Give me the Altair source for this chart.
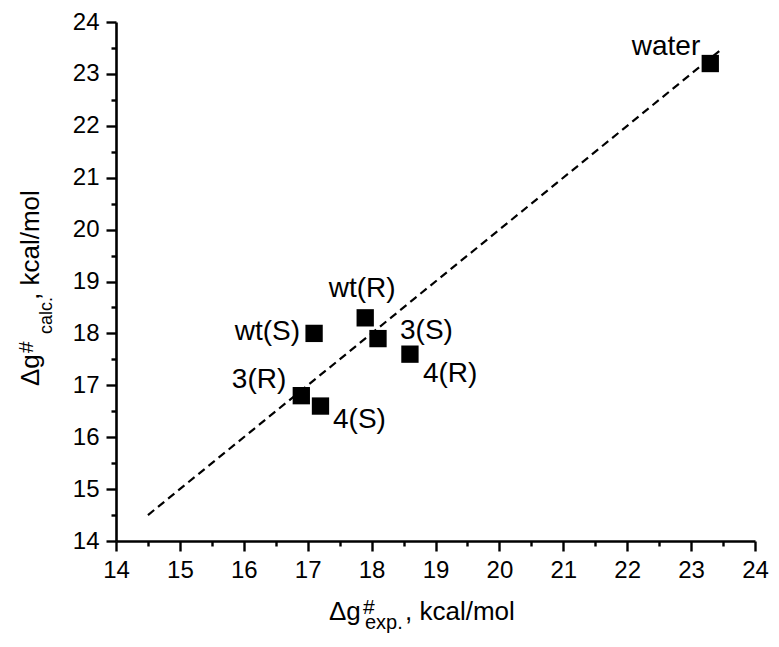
import altair as alt
import pandas as pd

# ---- data ----
NAMES = ["water", "wt(S)", "wt(R)", "3(S)", "4(R)", "3(R)", "4(S)"]
EXP = [23.3, 17.1, 17.9, 18.1, 18.6, 16.9, 17.2]
CALC = [23.2, 18.0, 18.3, 17.9, 17.6, 16.8, 16.6]
LINE_X = [14.5, 23.45]
LINE_Y = [14.5, 23.45]
MAJOR_TICKS = [14, 15, 16, 17, 18, 19, 20, 21, 22, 23, 24]
MINOR_TICKS = [14.5, 15.5, 16.5, 17.5, 18.5, 19.5, 20.5, 21.5, 22.5, 23.5]
X_TITLE_PARTS = ["Δg", "#", "exp.", ", kcal/mol"]
Y_TITLE_PARTS = ["Δg", "#", "calc.", ", kcal/mol"]

# ---- styling ----
FONT = "Liberation Sans"
LABEL_SIZE = 28
# align, dx, dy for each point label
LABEL_STYLE = {
    "water": ("right", -10, -8.5),
    "wt(S)": ("right", -14, 7),
    "3(R)": ("right", -15, -8),
    "wt(R)": ("center", -3, -21),
    "3(S)": ("left", 22, 0),
    "4(R)": ("left", 13, 28),
    "4(S)": ("left", 12.5, 22),
}
# pixel placement (x, y, fontSize) of title pieces relative to plot origin
X_TITLE_POS = [(213, 598, 26), (247, 592, 21), (249, 607, 20), (289, 598, 26)]
Y_TITLE_POS = [(-77, 364, 26), (-83, 331, 21), (-64, 312, 18), (-77, 278, 26)]

df = pd.DataFrame({"name": NAMES, "exp": EXP, "calc": CALC})
line_df = pd.DataFrame({"exp": LINE_X, "calc": LINE_Y})

SCALE = alt.Scale(domain=[14, 24], nice=False, zero=False)

major_common = dict(
    values=MAJOR_TICKS,
    format="d",
    tickSize=10,
    tickWidth=2.4,
    tickColor="black",
    domainColor="black",
    domainWidth=2.6,
    labelFont=FONT,
    labelFontSize=24,
    labelColor="black",
    labelFlush=False,
    labelOverlap=False,
    labelPadding=7,
    grid=False,
    title=None,
)
minor_common = dict(
    values=MINOR_TICKS,
    tickSize=5,
    tickWidth=2.4,
    tickColor="black",
    labels=False,
    domain=False,
    grid=False,
    title=None,
)

line = alt.Chart(line_df).mark_line(
    color="black", strokeWidth=2.2, strokeDash=[8, 5]
).encode(
    x=alt.X("exp:Q", scale=SCALE, axis=alt.Axis(orient="bottom", **major_common)),
    y=alt.Y("calc:Q", scale=SCALE, axis=alt.Axis(orient="left", **major_common)),
)

points = alt.Chart(df).mark_square(
    size=300, color="black", opacity=1, strokeWidth=0
).encode(
    x=alt.X("exp:Q", scale=SCALE, axis=alt.Axis(orient="bottom", **minor_common)),
    y=alt.Y("calc:Q", scale=SCALE, axis=alt.Axis(orient="left", **minor_common)),
)

label_layers = []
for n in NAMES:
    al, dx, dy = LABEL_STYLE[n]
    label_layers.append(
        alt.Chart(df)
        .transform_filter(alt.datum.name == n)
        .mark_text(align=al, dx=dx, dy=dy, baseline="alphabetic",
                   font=FONT, fontSize=LABEL_SIZE, color="black")
        .encode(
            x=alt.X("exp:Q", scale=SCALE, axis=None),
            y=alt.Y("calc:Q", scale=SCALE, axis=None),
            text="name:N",
        )
    )

title_layers = []
for part, (px, py, fs) in zip(X_TITLE_PARTS, X_TITLE_POS):
    title_layers.append(
        alt.Chart(pd.DataFrame({"t": [part]}))
        .mark_text(align="left", baseline="alphabetic", font=FONT,
                   fontSize=fs, color="black")
        .encode(x=alt.value(px), y=alt.value(py), text="t:N")
    )
for part, (px, py, fs) in zip(Y_TITLE_PARTS, Y_TITLE_POS):
    title_layers.append(
        alt.Chart(pd.DataFrame({"t": [part]}))
        .mark_text(align="left", baseline="alphabetic", font=FONT,
                   fontSize=fs, color="black", angle=270)
        .encode(x=alt.value(px), y=alt.value(py), text="t:N")
    )

chart = (
    alt.layer(line, points, *label_layers, *title_layers)
    .resolve_axis(x="independent", y="independent")
    .properties(
        width=639,
        height=519,
        autosize=alt.AutoSizeParams(type="none"),
        padding={"left": 108, "top": 14, "right": 16, "bottom": 93},
        background="white",
    )
    .configure_view(stroke=None)
)

chart.save("out.html", embed_options={"renderer": "svg", "actions": False})
